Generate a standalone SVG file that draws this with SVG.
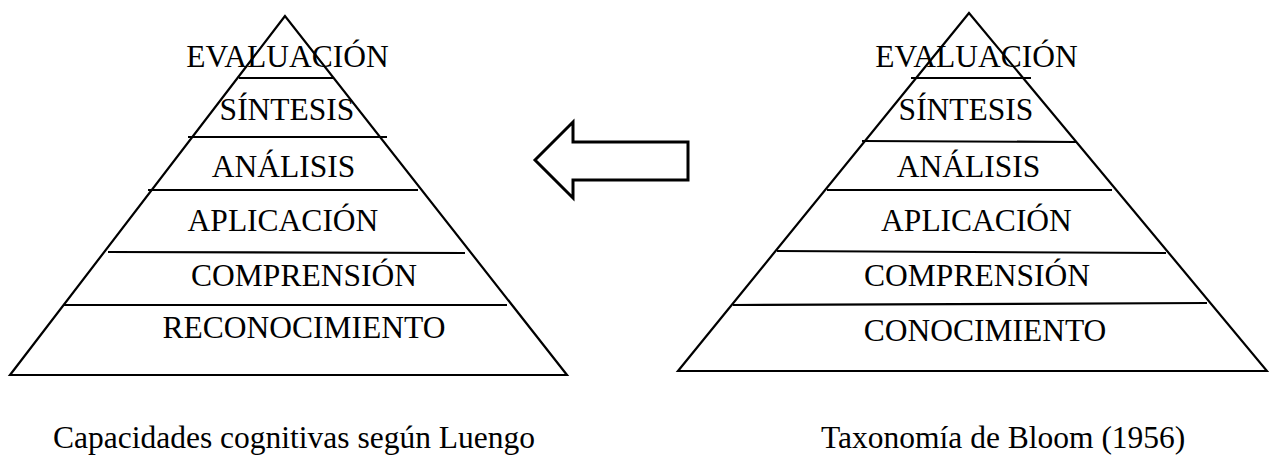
<svg xmlns="http://www.w3.org/2000/svg" width="1269" height="458" viewBox="0 0 1269 458">
<style>
.t{font-family:"Liberation Serif","Times New Roman",serif;font-size:31.5px;fill:#000;text-anchor:middle}
.c{font-family:"Liberation Serif","Times New Roman",serif;font-size:31.5px;fill:#000}
.s{fill:none;stroke:#000;stroke-width:2.2}
.b{fill:#fff;stroke:#000;stroke-width:3;stroke-linejoin:miter}
</style>
<rect width="1269" height="458" fill="#fff"/>
<g id="pyramid-luengo">
<polygon class="s" points="285,16 10,375 567,375"/>
<line class="s" x1="239" y1="78" x2="333" y2="78"/>
<line class="s" x1="188" y1="137" x2="387" y2="137"/>
<line class="s" x1="148" y1="190" x2="418" y2="190"/>
<line class="s" x1="108" y1="252" x2="465" y2="253"/>
<line class="s" x1="63" y1="305" x2="507" y2="305"/>
<text class="t" x="287.5" y="67">EVALUACIÓN</text>
<text class="t" x="287" y="120">SÍNTESIS</text>
<text class="t" x="283.5" y="177">ANÁLISIS</text>
<text class="t" x="283" y="231">APLICACIÓN</text>
<text class="t" x="304" y="286">COMPRENSIÓN</text>
<text class="t" x="304" y="338">RECONOCIMIENTO</text>
</g>
<g id="pyramid-bloom">
<polygon class="s" points="969,13 678,371 1267,371"/>
<line class="s" x1="911" y1="78" x2="1031" y2="78"/>
<line class="s" x1="862" y1="141" x2="1077" y2="142"/>
<line class="s" x1="827" y1="190" x2="1112" y2="190"/>
<line class="s" x1="777" y1="251" x2="1166" y2="253"/>
<line class="s" x1="733" y1="305" x2="1207" y2="303"/>
<text class="t" x="976.5" y="67">EVALUACIÓN</text>
<text class="t" x="966" y="120">SÍNTESIS</text>
<text class="t" x="968.5" y="177">ANÁLISIS</text>
<text class="t" x="976.5" y="231">APLICACIÓN</text>
<text class="t" x="977" y="286">COMPRENSIÓN</text>
<text class="t" x="985" y="341">CONOCIMIENTO</text>
</g>
<g id="connectors">
<polygon class="b" points="535,160 573,122 573,142 688,142 688,180 573,180 573,198"/>
</g>
<g id="captions">
<text class="c" x="53" y="448">Capacidades cognitivas según Luengo</text>
<text class="c" x="821" y="448">Taxonomía de Bloom (1956)</text>
</g>
</svg>
